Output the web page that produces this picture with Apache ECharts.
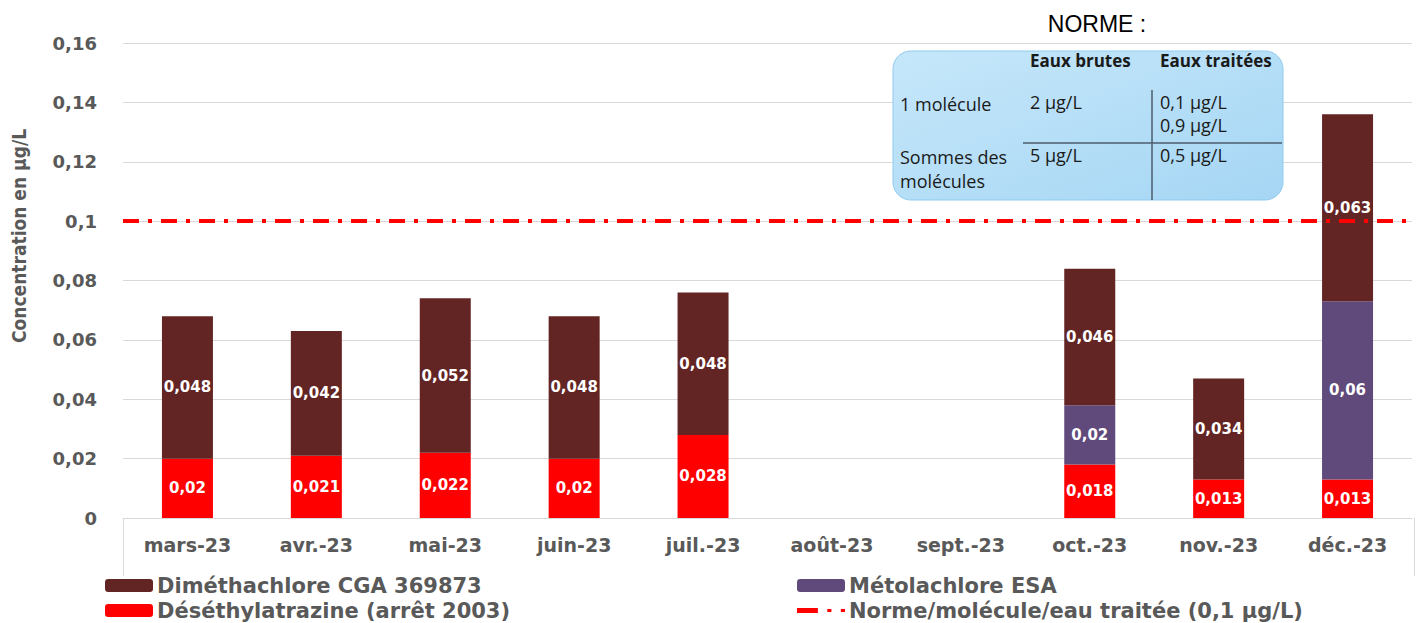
<!DOCTYPE html>
<html>
<head>
<meta charset="utf-8">
<script src="https://cdn.jsdelivr.net/npm/echarts@6/dist/echarts.min.js"></script>
<style>
    html, body { margin: 0; padding: 0; background: #fff; }
    #chart { width: 1420px; height: 623px; }
</style>
</head>
<body>
<div id="chart"></div>
<script>
// Data
const months = ['mars-23', 'avr.-23', 'mai-23', 'juin-23', 'juil.-23', 'août-23', 'sept.-23', 'oct.-23', 'nov.-23', 'déc.-23']
const desethylatrazine = [0.02, 0.021, 0.022, 0.02, 0.028, null, null, 0.018, 0.013, 0.013]
const metolachloreEsa = [null, null, null, null, null, null, null, 0.02, null, 0.06]
const dimethachlore = [0.048, 0.042, 0.052, 0.048, 0.048, null, null, 0.046, 0.034, 0.063]
const normeValue = 0.1
const yTicks = [0, 0.16, 0.02]

const grey = '#595959'
const axisFont = 'DejaVu Sans'
const fmt = v => String(+(+v).toFixed(3)).replace('.', ',')

const chart = echarts.init(document.getElementById('chart'), null, { renderer: 'svg' })

const barLabel = {
    show: true,
    position: 'inside',
    color: '#fff',
    fontWeight: 'bold',
    fontSize: 15,
    fontFamily: axisFont,
    formatter: p => fmt(p.value)
}

// one legend per item so the 2x2 layout matches
function legendAt(name, left, top, icon) {
    const item = icon ? { name, icon } : name
    return {
        data: [item],
        left,
        top,
        padding: 0,
        itemWidth: 48,
        itemHeight: 13,
        selectedMode: false,
        textStyle: { color: grey, fontWeight: 'bold', fontSize: 21, fontFamily: axisFont, padding: [0, 0, 0, -1] }
    }
}

const normeIcon = 'path://M0,0 L20,0 L20,5 L0,5 Z M29,1 L33,1 L33,4 L29,4 Z M42,1 L46,1 L46,4 L42,4 Z'

const tableFont = '18px "Open Sans", sans-serif'
const tableBold = 'bold 17px "Open Sans", sans-serif'
const ink = '#1a1a1a'

function cell(text, x, y, font) {
    return { type: 'text', x, y, z: 101, style: { text, font: font || tableFont, fill: ink } }
}

const option = {
    animation: false,
    grid: { left: 123, right: 8, top: 43, bottom: 105 },
    legend: [
        legendAt('Diméthachlore CGA 369873', 105, 575),
        legendAt('Déséthylatrazine (arrêt 2003)', 105, 600),
        legendAt('Métolachlore ESA', 797, 575),
        legendAt('Norme/molécule/eau traitée (0,1 µg/L)', 797, 600, normeIcon)
    ],
    xAxis: {
        type: 'category',
        data: months,
        axisLine: { lineStyle: { color: '#d9d9d9', width: 1 } },
        axisTick: { show: false },
        axisLabel: { color: grey, fontWeight: 'bold', fontSize: 19, fontFamily: axisFont, margin: 17 }
    },
    yAxis: {
        type: 'value',
        min: yTicks[0],
        max: yTicks[1],
        interval: yTicks[2],
        axisLine: { show: false },
        axisTick: { show: false },
        splitLine: { lineStyle: { color: '#d9d9d9' } },
        axisLabel: { color: grey, fontWeight: 'bold', fontSize: 18, fontFamily: axisFont, margin: 26, formatter: fmt }
    },
    series: [
        {
            name: 'Déséthylatrazine (arrêt 2003)',
            type: 'bar',
            stack: 'total',
            barWidth: 51,
            data: desethylatrazine,
            itemStyle: { color: '#ff0000' },
            label: barLabel
        },
        {
            name: 'Métolachlore ESA',
            type: 'bar',
            stack: 'total',
            data: metolachloreEsa,
            itemStyle: { color: '#604a7b' },
            label: barLabel
        },
        {
            name: 'Diméthachlore CGA 369873',
            type: 'bar',
            stack: 'total',
            data: dimethachlore,
            itemStyle: { color: '#632523' },
            label: barLabel
        },
        {
            name: 'Norme/molécule/eau traitée (0,1 µg/L)',
            type: 'line',
            data: [],
            symbol: 'none',
            z: 5,
            itemStyle: { color: '#ff0000' },
            lineStyle: { color: '#ff0000', width: 4, type: [16, 9, 4, 9] },
            markLine: {
                silent: true,
                symbol: 'none',
                label: { show: false },
                lineStyle: { color: '#ff0000', width: 4, type: [16, 9, 4, 9] },
                data: [{ yAxis: normeValue }]
            }
        }
    ],
    graphic: [
        // y axis title
        {
            type: 'text',
            x: 9,
            y: 236,
            rotation: Math.PI / 2,
            style: {
                text: 'Concentration en µg/L',
                fill: grey,
                font: 'bold 19px "DejaVu Sans Condensed", "DejaVu Sans", sans-serif',
                align: 'center',
                verticalAlign: 'top'
            }
        },
        // x axis box edges
        { type: 'line', shape: { x1: 123.5, y1: 518, x2: 123.5, y2: 576 }, style: { stroke: '#d9d9d9', lineWidth: 1 } },
        { type: 'line', shape: { x1: 1414.5, y1: 518, x2: 1414.5, y2: 576 }, style: { stroke: '#d9d9d9', lineWidth: 1 } },
        // NORME table
        {
            type: 'text',
            x: 1097,
            y: 12,
            style: { text: 'NORME :', font: '23px "Liberation Sans", Arial, sans-serif', fill: '#000', align: 'center' }
        },
        {
            type: 'rect',
            z: 100,
            shape: { x: 893, y: 51, width: 390, height: 149, r: 18 },
            style: {
                fill: new echarts.graphic.LinearGradient(0, 0, 1, 1, [
                    { offset: 0, color: '#c6e7fa' },
                    { offset: 1, color: '#a5d6f4' }
                ]),
                stroke: '#8fcbef',
                lineWidth: 1
            }
        },
        { type: 'line', z: 101, shape: { x1: 1023, y1: 143, x2: 1282, y2: 143 }, style: { stroke: '#4b5d6b', lineWidth: 1.5 } },
        { type: 'line', z: 101, shape: { x1: 1152, y1: 90, x2: 1152, y2: 200 }, style: { stroke: '#4b5d6b', lineWidth: 1.5 } },
        cell('Eaux brutes', 1030, 52, tableBold),
        cell('Eaux traitées', 1160, 52, tableBold),
        cell('1 molécule', 900, 95),
        cell('2 µg/L', 1030, 93),
        cell('0,1 µg/L', 1160, 93),
        cell('0,9 µg/L', 1160, 116),
        cell('Sommes des', 900, 148),
        cell('molécules', 900, 172),
        cell('5 µg/L', 1030, 146),
        cell('0,5 µg/L', 1160, 146)
    ]
}

chart.setOption(option)
</script>
</body>
</html>
